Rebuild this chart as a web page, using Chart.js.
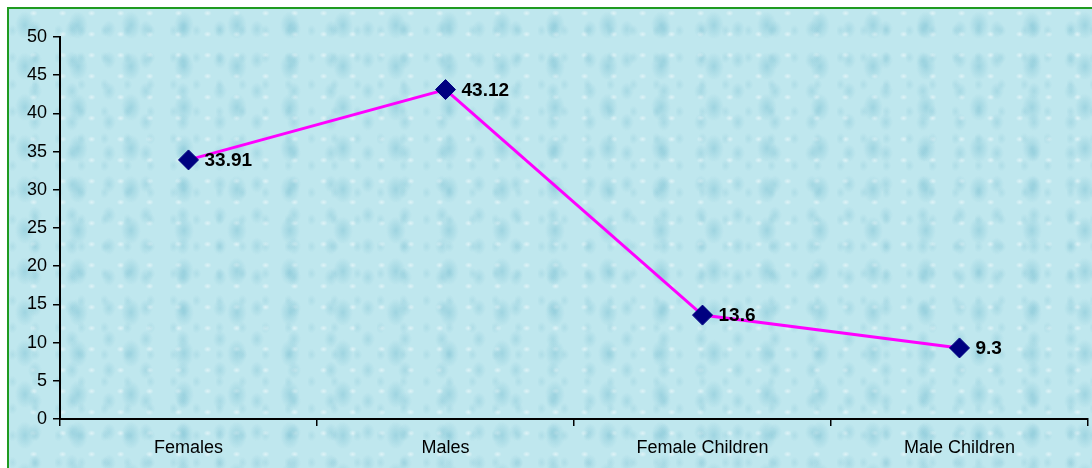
<!DOCTYPE html>
<html>
<head>
<meta charset="utf-8">
<script src="https://cdn.jsdelivr.net/npm/chart.js@4/dist/chart.umd.min.js"></script>
<style>
  html, body { margin: 0; padding: 0; width: 1092px; height: 468px; overflow: hidden; background: #fff; }
  #frame {
    position: absolute; left: 7px; top: 7px; width: 1100px; height: 480px;
    border: 2px solid #1f9b1f; box-sizing: border-box;
    background-color: #bfe7ee;
    background-image:
      radial-gradient(ellipse 10px 14px at 30% 40%, rgba(110,185,205,0.4), rgba(110,185,205,0) 100%),
      radial-gradient(ellipse 7px 9px at 70% 65%, rgba(125,192,210,0.35), rgba(125,192,210,0) 100%),
      radial-gradient(ellipse 5px 6px at 15% 80%, rgba(140,200,215,0.3), rgba(140,200,215,0) 100%),
      radial-gradient(ellipse 4px 3px at 85% 20%, rgba(255,255,255,0.5), rgba(255,255,255,0) 100%);
    background-size: 53px 41px, 37px 31px, 23px 27px, 29px 21px;
  }
  #wrap { position: absolute; left: 0; top: 0; width: 1092px; height: 468px; }
</style>
</head>
<body>
<div id="frame"></div>
<div id="wrap"><canvas id="chart"></canvas></div>
<script>
const categories = ["Females", "Males", "Female Children", "Male Children"];
const values = [33.91, 43.12, 13.6, 9.3];
const valueLabels = ["33.91", "43.12", "13.6", "9.3"];

// draws the value next to each diamond
const pointLabels = {
  id: "pointLabels",
  afterDatasetsDraw(chart) {
    const ctx = chart.ctx;
    const meta = chart.getDatasetMeta(0);
    ctx.save();
    ctx.font = "bold 19px 'Liberation Sans', Arial, sans-serif";
    ctx.fillStyle = "#000";
    ctx.textAlign = "left";
    ctx.textBaseline = "middle";
    meta.data.forEach((pt, i) => {
      ctx.fillText(valueLabels[i], pt.x + 16, pt.y + 1);
    });
    ctx.restore();
  },
};

new Chart(document.getElementById("chart"), {
  type: "line",
  data: {
    labels: categories,
    datasets: [
      {
        data: values,
        borderColor: "#ff00ff",
        borderWidth: 3,
        pointStyle: "rectRot",
        pointRadius: 10,
        pointHoverRadius: 10,
        pointBackgroundColor: "#000080",
        pointBorderColor: "#000080",
        pointBorderWidth: 1,
        tension: 0,
        fill: false,
      },
    ],
  },
  options: {
    responsive: true,
    maintainAspectRatio: false,
    animation: false,
    events: [],
    layout: { autoPadding: false, padding: { top: 37, right: 4, left: 0, bottom: 0 } },
    plugins: { legend: { display: false }, tooltip: { enabled: false } },
    scales: {
      x: {
        offset: true,
        afterFit: (s) => { s.height = 49; },
        grid: { offset: true, drawOnChartArea: false, tickLength: 7, color: "#000", lineWidth: 1.5 },
        border: { color: "#000", width: 2 },
        ticks: {
          color: "#000",
          padding: 11,
          maxRotation: 0,
          font: { family: "'Liberation Sans', Arial, sans-serif", size: 18 },
        },
      },
      y: {
        min: 0,
        max: 50,
        afterFit: (s) => { s.width = 60; },
        grid: { drawOnChartArea: false, tickLength: 7, color: "#000", lineWidth: 1.5 },
        border: { color: "#000", width: 2 },
        ticks: {
          stepSize: 5,
          color: "#000",
          padding: 6,
          font: { family: "'Liberation Sans', Arial, sans-serif", size: 18 },
        },
      },
    },
  },
  plugins: [pointLabels],
});
</script>
</body>
</html>
